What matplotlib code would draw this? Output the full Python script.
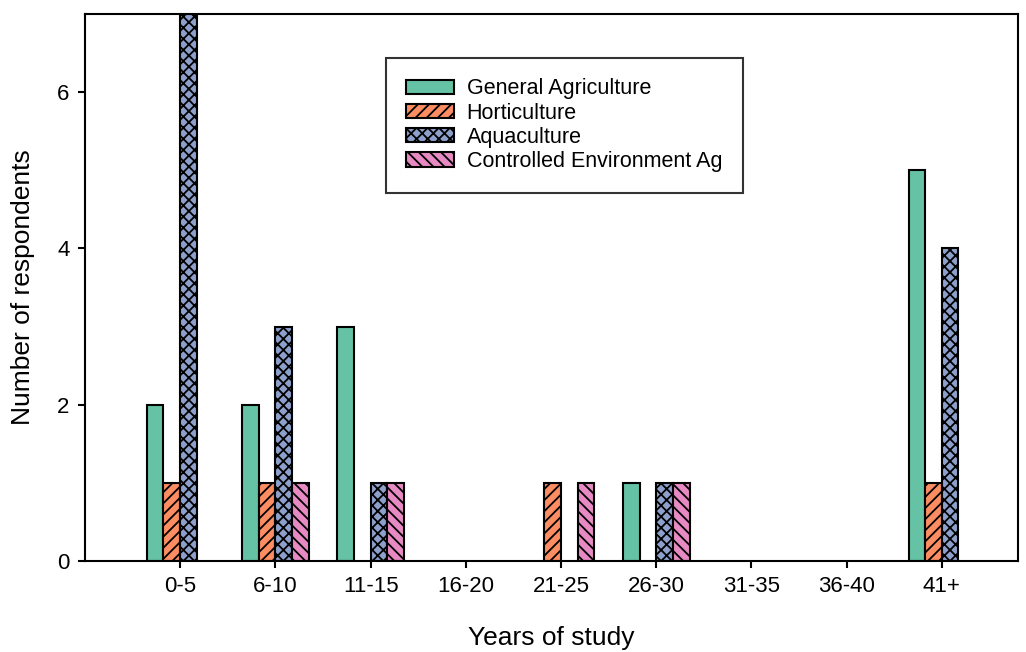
import numpy as np
import matplotlib
matplotlib.use('Agg')
import matplotlib.pyplot as plt

plt.rcParams['font.family'] = ['Liberation Sans', 'DejaVu Sans']
plt.rcParams['hatch.linewidth'] = 1.3

categories = ['0-5', '6-10', '11-15', '16-20', '21-25', '26-30', '31-35', '36-40', '41+']
general_ag = [2, 2, 3, 0, 0, 1, 0, 0, 5]
horticulture = [1, 1, 0, 0, 1, 0, 0, 0, 1]
aquaculture = [7, 3, 1, 0, 0, 1, 0, 0, 4]
cea = [0, 1, 1, 0, 1, 1, 0, 0, 0]

series = [
    ('General Agriculture', general_ag, '#66c2a5', ''),
    ('Horticulture', horticulture, '#fc8d62', '///'),
    ('Aquaculture', aquaculture, '#8da0cb', 'xxx'),
    ('Controlled Environment Ag', cea, '#e78ac3', '\\\\\\'),
]

fig = plt.figure(figsize=(10.26, 6.52), dpi=100)
ax = fig.add_axes([0.0828, 0.1396, 0.9094, 0.839])

x = np.arange(len(categories))
w = 0.175
for i, (name, vals, color, hatch) in enumerate(series):
    offset = (i - 1.5) * w
    vals = np.array(vals, dtype=float)
    keep = vals > 0  # zero bars would leave a flat outline on the axis
    ax.bar(x[keep] + offset, vals[keep], w, color=color, edgecolor='black',
           linewidth=1.5, hatch=hatch, label=name)

ax.set_xlim(-1.0, 8.8)
ax.set_ylim(0, 7)
ax.set_xticks(x)
ax.set_xticklabels(categories)
ax.set_yticks([0, 2, 4, 6])
ax.tick_params(axis='both', direction='out', length=5, width=1.5, labelsize=16, pad=6)
for sp in ax.spines.values():
    sp.set_linewidth(1.5)

ax.set_xlabel('Years of study', fontsize=19, labelpad=21)
ax.set_ylabel('Number of respondents', fontsize=19, labelpad=16)

leg = ax.legend(loc='upper left', bbox_to_anchor=(0.3226, 0.9196), borderaxespad=0,
                fontsize=15.5, frameon=True, fancybox=False, edgecolor='black',
                handlelength=2.2, handleheight=0.65, handletextpad=0.6,
                labelspacing=0.15, borderpad=0.95)
leg.get_frame().set_linewidth(1.5)

fig.savefig('out.png', dpi=100)
